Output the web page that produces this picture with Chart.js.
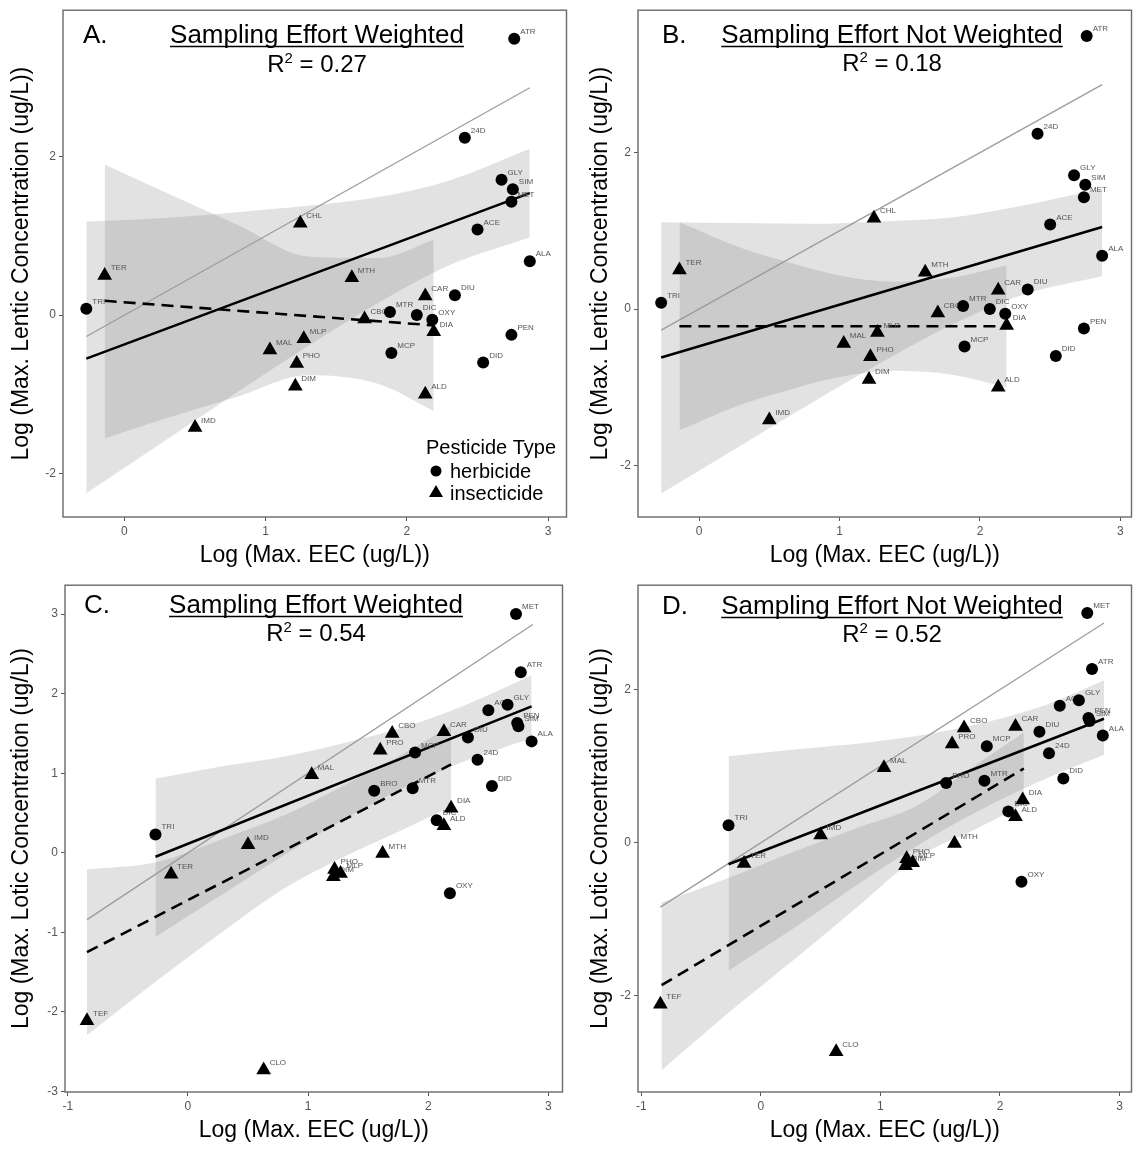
<!DOCTYPE html>
<html>
<head>
<meta charset="utf-8">
<script src="https://cdn.jsdelivr.net/npm/chart.js@4.4.1/dist/chart.umd.min.js"></script>
<style>
  body { margin: 0; background: #fff; width: 1140px; height: 1149px; position: relative; overflow: hidden; }
  canvas { position: absolute; }
</style>
</head>
<body>
<canvas id="chartA" width="575" height="571" style="left:0px;top:0px"></canvas>
<canvas id="chartB" width="565" height="571" style="left:575px;top:0px"></canvas>
<canvas id="chartC" width="569" height="571" style="left:2px;top:575px"></canvas>
<canvas id="chartD" width="565" height="571" style="left:575px;top:575px"></canvas>
<script>
const FONT = '"Liberation Sans", Arial, sans-serif';

// ---- lentic data (panels A, B) ----
const lenticHerbLabels = ['TRI', 'DIU', 'MTR', 'DIC', 'OXY', 'MCP', 'PEN', 'DID', 'ALA', 'ATR', '24D', 'GLY', 'SIM', 'MET', 'ACE'];
const lenticHerbX = [-0.27, 2.34, 1.88, 2.07, 2.18, 1.89, 2.74, 2.54, 2.87, 2.76, 2.41, 2.67, 2.75, 2.74, 2.50];
const lenticHerbY = [0.08, 0.25, 0.04, 0.00, -0.06, -0.48, -0.25, -0.60, 0.68, 3.49, 2.24, 1.71, 1.59, 1.43, 1.08];
const lenticInsLabels = ['TER', 'CHL', 'MTH', 'CAR', 'CBO', 'DIA', 'MLP', 'MAL', 'PHO', 'DIM', 'ALD', 'IMD'];
const lenticInsX = [-0.14, 1.245, 1.61, 2.13, 1.70, 2.19, 1.27, 1.03, 1.22, 1.21, 2.13, 0.50];
const lenticInsY = [0.50, 1.16, 0.47, 0.24, -0.05, -0.21, -0.30, -0.44, -0.61, -0.90, -1.00, -1.42];

// ---- lotic data (panels C, D) ----
const loticHerbLabels = ['TRI', 'MCP', 'DIU', 'ACE', 'GLY', 'PEN', 'SIM', 'ALA', '24D', 'DID', 'ATR', 'MET', 'BRO', 'MTR', 'DIC', 'OXY'];
const loticHerbX = [-0.27, 1.89, 2.33, 2.50, 2.66, 2.74, 2.75, 2.86, 2.41, 2.53, 2.77, 2.73, 1.55, 1.87, 2.07, 2.18];
const loticHerbY = [0.23, 1.26, 1.45, 1.79, 1.86, 1.63, 1.59, 1.40, 1.17, 0.84, 2.27, 3.00, 0.78, 0.81, 0.41, -0.51];
const loticInsLabels = ['TER', 'IMD', 'MAL', 'PRO', 'CBO', 'CAR', 'DIA', 'ALD', 'MTH', 'PHO', 'DIM', 'MLP', 'TEF', 'CLO'];
const loticInsX = [-0.14, 0.50, 1.03, 1.60, 1.70, 2.13, 2.19, 2.13, 1.62, 1.22, 1.21, 1.27, -0.84, 0.63];
const loticInsY = [-0.27, 0.10, 0.98, 1.29, 1.50, 1.52, 0.56, 0.34, -0.01, -0.21, -0.30, -0.26, -2.11, -2.73];

// 1:1 reference lines
const lenticOneX = [-0.27, 2.87];
const loticOneX = [-0.84, 2.87];

// fitted lines (herbicide = solid, insecticide = dashed)
const aHerbFitX = [-0.27, 2.87], aHerbFitY = [-0.55, 1.54];
const aInsFitX = [-0.14, 2.19], aInsFitY = [0.18, -0.13];
const bHerbFitX = [-0.27, 2.87], bHerbFitY = [-0.62, 1.05];
const bInsFitX = [-0.14, 2.19], bInsFitY = [-0.22, -0.22];
const cHerbFitX = [-0.27, 2.86], cHerbFitY = [-0.05, 1.84];
const cInsFitX = [-0.84, 2.19], cInsFitY = [-1.25, 1.11];
const dHerbFitX = [-0.27, 2.87], dHerbFitY = [-0.28, 1.62];
const dInsFitX = [-0.83, 2.20], dInsFitY = [-1.86, 0.97];

// confidence bands
const aHerbBandX = [-0.27, 0.3, 0.8, 1.3, 1.8, 2.3, 2.87];
const aHerbBandLo = [-2.25, -1.57, -0.97, -0.39, 0.16, 0.63, 0.98];
const aHerbBandHi = [1.18, 1.23, 1.30, 1.38, 1.49, 1.70, 2.10];
const aInsBandX = [-0.14, 0.3, 0.8, 1.3, 1.8, 2.19];
const aInsBandLo = [-1.56, -1.30, -1.03, -0.76, -0.87, -1.21];
const aInsBandHi = [1.90, 1.54, 1.14, 0.74, 0.72, 0.95];

const bHerbBandX = [-0.27, 0.3, 0.8, 1.3, 1.8, 2.3, 2.87];
const bHerbBandLo = [-2.36, -1.74, -1.20, -0.68, -0.20, 0.18, 0.42];
const bHerbBandHi = [1.11, 1.10, 1.09, 1.12, 1.17, 1.32, 1.54];
const bInsBandX = [-0.14, 0.3, 0.63, 1.0, 1.4, 1.8, 2.19];
const bInsBandLo = [-1.55, -1.22, -1.04, -0.87, -0.79, -0.84, -1.00];
const bInsBandHi = [1.11, 0.78, 0.60, 0.43, 0.35, 0.40, 0.56];

const cHerbBandX = [-0.27, 0.3, 0.8, 1.3, 1.8, 2.3, 2.86];
const cHerbBandLo = [-1.06, -0.51, -0.03, 0.42, 0.82, 1.15, 1.44];
const cHerbBandHi = [0.93, 1.09, 1.21, 1.38, 1.58, 1.85, 2.23];
const cInsBandX = [-0.84, -0.27, 0.3, 0.8, 1.3, 1.8, 2.19];
const cInsBandLo = [-2.29, -1.62, -0.98, -0.45, -0.05, 0.30, 0.58];
const cInsBandHi = [-0.21, -0.12, 0.18, 0.47, 0.85, 1.25, 1.60];

const dHerbBandX = [-0.27, 0.3, 0.9, 1.4, 1.9, 2.4, 2.87];
const dHerbBandLo = [-1.67, -1.09, -0.45, 0.05, 0.48, 0.85, 1.15];
const dHerbBandHi = [1.13, 1.22, 1.31, 1.42, 1.58, 1.81, 2.12];
const dInsBandX = [-0.83, -0.27, 0.3, 0.8, 1.3, 1.8, 2.2];
const dInsBandLo = [-2.97, -2.22, -1.50, -0.85, -0.20, 0.18, 0.50];
const dInsBandHi = [-0.78, -0.46, -0.10, 0.19, 0.48, 1.02, 1.44];

// tick labels
const lenticXTicks = [0, 1, 2, 3];
const lenticYTicks = [-2, 0, 2];
const loticXTicks = [-1, 0, 1, 2, 3];
const cYTicks = [-3, -2, -1, 0, 1, 2, 3];
const dYTicks = [-2, 0, 2];

const xy = (xs, ys) => xs.map((x, i) => ({ x: x, y: ys[i] }));
const BAND_FILL = 'rgba(110,110,110,0.2)';

function buildDatasets(p) {
    return [
        { data: xy(p.herbX, p.herbY), showLine: false, pointStyle: 'circle', pointRadius: 6,
          pointBackgroundColor: '#000', pointBorderColor: '#000', pointBorderWidth: 0, order: 0, pointLabels: p.herbLabels },
        { data: xy(p.insX, p.insY), showLine: false, pointStyle: 'triangle', pointRadius: 8.5,
          pointBackgroundColor: '#000', pointBorderColor: '#000', pointBorderWidth: 0, order: 0.1, pointLabels: p.insLabels },
        { data: xy(p.herbFitX, p.herbFitY), borderColor: '#000', borderWidth: 2.6, pointRadius: 0, order: 1 },
        { data: xy(p.insFitX, p.insFitY), borderColor: '#000', borderWidth: 2.6, borderDash: [12, 7], pointRadius: 0, order: 1 },
        { data: xy(p.oneX, p.oneX), borderColor: '#9c9c9c', borderWidth: 1.3, pointRadius: 0, order: 1.1 },
        { data: xy(p.herbBandX, p.herbBandLo), borderColor: 'rgba(0,0,0,0)', borderWidth: 0, pointRadius: 0,
          fill: false, cubicInterpolationMode: 'monotone', order: 2 },
        { data: xy(p.herbBandX, p.herbBandHi), borderColor: 'rgba(0,0,0,0)', borderWidth: 0, pointRadius: 0,
          fill: '-1', backgroundColor: BAND_FILL, cubicInterpolationMode: 'monotone', order: 2 },
        { data: xy(p.insBandX, p.insBandLo), borderColor: 'rgba(0,0,0,0)', borderWidth: 0, pointRadius: 0,
          fill: false, cubicInterpolationMode: 'monotone', order: 2 },
        { data: xy(p.insBandX, p.insBandHi), borderColor: 'rgba(0,0,0,0)', borderWidth: 0, pointRadius: 0,
          fill: '-1', backgroundColor: BAND_FILL, cubicInterpolationMode: 'monotone', order: 2 }
    ];
}

function drawPointLabels(chart) {
    const ctx = chart.ctx, a = chart.chartArea;
    ctx.save();
    ctx.beginPath();
    ctx.rect(a.left, a.top, a.right - a.left, a.bottom - a.top);
    ctx.clip();
    ctx.font = '8px ' + FONT;
    ctx.fillStyle = '#555';
    ctx.textAlign = 'left';
    ctx.textBaseline = 'alphabetic';
    chart.data.datasets.forEach(ds => {
        if (!ds.pointLabels) return;
        ds.data.forEach((pt, i) => {
            const px = chart.scales.x.getPixelForValue(pt.x);
            const py = chart.scales.y.getPixelForValue(pt.y);
            ctx.fillText(ds.pointLabels[i], px + 6, py - 5);
        });
    });
    ctx.restore();
}

function drawR2(ctx, cx, y, val) {
    ctx.font = '24px ' + FONT;
    const wR = ctx.measureText('R').width;
    const rest = ' = ' + val;
    const wRest = ctx.measureText(rest).width;
    ctx.font = '15px ' + FONT;
    const w2 = ctx.measureText('2').width;
    let x = cx - (wR + w2 + wRest) / 2;
    ctx.textAlign = 'left';
    ctx.textBaseline = 'alphabetic';
    ctx.font = '24px ' + FONT;
    ctx.fillText('R', x, y);
    x += wR;
    ctx.font = '15px ' + FONT;
    ctx.fillText('2', x, y - 9);
    x += w2;
    ctx.font = '24px ' + FONT;
    ctx.fillText(rest, x, y);
}

const panelDecor = {
    id: 'panelDecor',
    beforeDatasetsDraw(chart) { chart.$labelsDone = false; },
    beforeDatasetDraw(chart, args) {
        const ds = chart.data.datasets[args.index];
        if (!ds.pointLabels || chart.$labelsDone) return;
        chart.$labelsDone = true;
        drawPointLabels(chart);
    },
    afterDraw(chart) {
        const p = chart.options.plugins.panelDecor;
        const ctx = chart.ctx, a = chart.chartArea;
        const ox = p.canvasLeft, oy = p.canvasTop;
        ctx.save();
        // panel border
        ctx.strokeStyle = '#6a6a6a';
        ctx.lineWidth = 1.4;
        ctx.strokeRect(a.left, a.top, a.right - a.left, a.bottom - a.top);
        ctx.fillStyle = '#000';
        // letter
        ctx.font = '26px ' + FONT;
        ctx.textAlign = 'left';
        ctx.textBaseline = 'alphabetic';
        ctx.fillText(p.letter, p.letterX - ox, p.titleY - oy);
        // underlined title
        ctx.textAlign = 'center';
        ctx.fillText(p.title, p.titleX - ox, p.titleY - oy);
        const tw = ctx.measureText(p.title).width;
        ctx.strokeStyle = '#000';
        ctx.lineWidth = 1.6;
        ctx.beginPath();
        ctx.moveTo(p.titleX - ox - tw / 2, p.titleY - oy + 3.5);
        ctx.lineTo(p.titleX - ox + tw / 2, p.titleY - oy + 3.5);
        ctx.stroke();
        drawR2(ctx, p.titleX - ox, p.r2Y - oy, p.r2);
        // legend
        if (p.legend) {
            ctx.textAlign = 'left';
            ctx.font = '20px ' + FONT;
            ctx.fillText('Pesticide Type', 426, 454);
            ctx.fillText('herbicide', 450, 478);
            ctx.fillText('insecticide', 450, 500);
            ctx.beginPath();
            ctx.arc(436, 471, 5.5, 0, Math.PI * 2);
            ctx.fill();
            ctx.beginPath();
            ctx.moveTo(436, 485);
            ctx.lineTo(443, 497);
            ctx.lineTo(429, 497);
            ctx.closePath();
            ctx.fill();
        }
        ctx.restore();
    }
};

function makeChart(id, p) {
    const tickFont = { size: 12, family: FONT };
    new Chart(document.getElementById(id), {
        type: 'line',
        data: { datasets: buildDatasets(p) },
        options: {
            responsive: false,
            animation: false,
            events: [],
            layout: { padding: { top: p.padTop, right: p.padRight, left: 0, bottom: 0 } },
            plugins: {
                legend: { display: false },
                tooltip: { enabled: false },
                panelDecor: p
            },
            scales: {
                x: {
                    type: 'linear', min: p.xMin, max: p.xMax,
                    afterBuildTicks: s => { s.ticks = p.xTicks.map(v => ({ value: v })); },
                    afterFit: s => { s.height = 54; },
                    grid: { drawOnChartArea: false, drawTicks: true, tickLength: 4, color: '#555' },
                    border: { display: false },
                    ticks: { font: tickFont, color: '#555', padding: 3, maxRotation: 0 },
                    title: { display: true, text: 'Log (Max. EEC (ug/L))', color: '#000',
                             font: { size: 23, family: FONT }, padding: { top: 0, bottom: 2 } }
                },
                y: {
                    type: 'linear', min: p.yMin, max: p.yMax,
                    afterBuildTicks: s => { s.ticks = p.yTicks.map(v => ({ value: v })); },
                    afterFit: s => { s.width = 63; },
                    grid: { drawOnChartArea: false, drawTicks: true, tickLength: 4, color: '#555' },
                    border: { display: false },
                    ticks: { font: tickFont, color: '#555', padding: 3 },
                    title: { display: true, text: p.yTitle, color: '#000',
                             font: { size: 23, family: FONT }, padding: { top: p.yTitlePad, bottom: 2 } }
                }
            }
        },
        plugins: [panelDecor]
    });
}

const lenticTitle = 'Log (Max. Lentic Concentration (ug/L))';
const loticTitle = 'Log (Max. Lotic Concentration (ug/L))';

makeChart('chartA', {
    canvasLeft: 0, canvasTop: 0, padTop: 8, padRight: 3, yTitlePad: 8,
    xMin: -0.435, xMax: 3.13, yMin: -2.55, yMax: 3.85,
    xTicks: lenticXTicks, yTicks: lenticYTicks, yTitle: lenticTitle,
    herbLabels: lenticHerbLabels, herbX: lenticHerbX, herbY: lenticHerbY,
    insLabels: lenticInsLabels, insX: lenticInsX, insY: lenticInsY,
    herbFitX: aHerbFitX, herbFitY: aHerbFitY, insFitX: aInsFitX, insFitY: aInsFitY, oneX: lenticOneX,
    herbBandX: aHerbBandX, herbBandLo: aHerbBandLo, herbBandHi: aHerbBandHi,
    insBandX: aInsBandX, insBandLo: aInsBandLo, insBandHi: aInsBandHi,
    letter: 'A.', letterX: 83, title: 'Sampling Effort Weighted', titleX: 317, titleY: 43,
    r2: '0.27', r2Y: 72, legend: true
});

makeChart('chartB', {
    canvasLeft: 575, canvasTop: 0, padTop: 7, padRight: 1, yTitlePad: 12,
    xMin: -0.435, xMax: 3.079, yMin: -2.659, yMax: 3.821,
    xTicks: lenticXTicks, yTicks: lenticYTicks, yTitle: lenticTitle,
    herbLabels: lenticHerbLabels, herbX: lenticHerbX, herbY: lenticHerbY,
    insLabels: lenticInsLabels, insX: lenticInsX, insY: lenticInsY,
    herbFitX: bHerbFitX, herbFitY: bHerbFitY, insFitX: bInsFitX, insFitY: bInsFitY, oneX: lenticOneX,
    herbBandX: bHerbBandX, herbBandLo: bHerbBandLo, herbBandHi: bHerbBandHi,
    insBandX: bInsBandX, insBandLo: bInsBandLo, insBandHi: bInsBandHi,
    letter: 'B.', letterX: 662, title: 'Sampling Effort Not Weighted', titleX: 892, titleY: 43,
    r2: '0.18', r2Y: 71, legend: false
});

makeChart('chartC', {
    canvasLeft: 2, canvasTop: 575, padTop: 8, padRight: 3, yTitlePad: 6,
    xMin: -1.023, xMax: 3.117, yMin: -3.007, yMax: 3.363,
    xTicks: loticXTicks, yTicks: cYTicks, yTitle: loticTitle,
    herbLabels: loticHerbLabels, herbX: loticHerbX, herbY: loticHerbY,
    insLabels: loticInsLabels, insX: loticInsX, insY: loticInsY,
    herbFitX: cHerbFitX, herbFitY: cHerbFitY, insFitX: cInsFitX, insFitY: cInsFitY, oneX: loticOneX,
    herbBandX: cHerbBandX, herbBandLo: cHerbBandLo, herbBandHi: cHerbBandHi,
    insBandX: cInsBandX, insBandLo: cInsBandLo, insBandHi: cInsBandHi,
    letter: 'C.', letterX: 84, title: 'Sampling Effort Weighted', titleX: 316, titleY: 613,
    r2: '0.54', r2Y: 641, legend: false
});

makeChart('chartD', {
    canvasLeft: 575, canvasTop: 575, padTop: 8, padRight: 1, yTitlePad: 12,
    xMin: -1.027, xMax: 3.10, yMin: -3.255, yMax: 3.364,
    xTicks: loticXTicks, yTicks: dYTicks, yTitle: loticTitle,
    herbLabels: loticHerbLabels, herbX: loticHerbX, herbY: loticHerbY,
    insLabels: loticInsLabels, insX: loticInsX, insY: loticInsY,
    herbFitX: dHerbFitX, herbFitY: dHerbFitY, insFitX: dInsFitX, insFitY: dInsFitY, oneX: loticOneX,
    herbBandX: dHerbBandX, herbBandLo: dHerbBandLo, herbBandHi: dHerbBandHi,
    insBandX: dInsBandX, insBandLo: dInsBandLo, insBandHi: dInsBandHi,
    letter: 'D.', letterX: 662, title: 'Sampling Effort Not Weighted', titleX: 892, titleY: 614,
    r2: '0.52', r2Y: 642, legend: false
});
</script>
</body>
</html>
